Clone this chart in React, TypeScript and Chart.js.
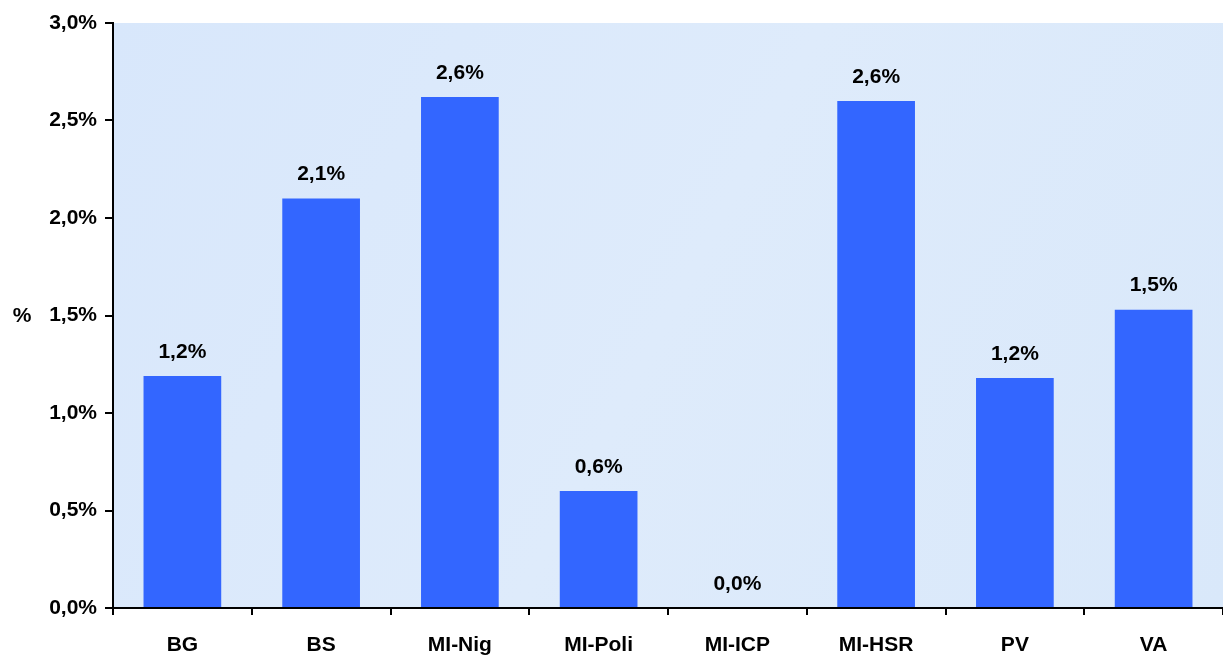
import React, { useEffect, useRef } from "react";
import { Chart, registerables } from "chart.js";

Chart.register(...registerables);

const categories = ["BG", "BS", "MI-Nig", "MI-Poli", "MI-ICP", "MI-HSR", "PV", "VA"];
const values = [1.19, 2.1, 2.62, 0.6, 0.0, 2.6, 1.18, 1.53];
const yTicks = [0, 0.5, 1.0, 1.5, 2.0, 2.5, 3.0];
const yAxisTitle = "%";

const FONT = "'Liberation Sans', Arial, sans-serif";

const fmt = (v: number) => v.toFixed(1).replace(".", ",") + "%";

const bgPlugin = {
  id: "plotBg",
  beforeDraw(chart: any) {
    const { ctx, chartArea } = chart;
    const { left, top, right, bottom } = chartArea;
    ctx.save();
    const g = ctx.createLinearGradient(left, top, right, bottom);
    g.addColorStop(0, "#d8e7fb");
    g.addColorStop(0.5, "#deebfb");
    g.addColorStop(1, "#d9e8fa");
    ctx.fillStyle = g;
    ctx.fillRect(left, top, right - left, bottom - top);
    ctx.restore();
  },
};

const labelPlugin = {
  id: "valueLabels",
  afterDatasetsDraw(chart: any) {
    const { ctx } = chart;
    const meta = chart.getDatasetMeta(0);
    ctx.save();
    ctx.font = `bold 21px ${FONT}`;
    ctx.fillStyle = "#000";
    ctx.textAlign = "center";
    ctx.textBaseline = "middle";
    meta.data.forEach((bar: any, i: number) => {
      ctx.fillText(fmt(values[i]), bar.x, bar.y - 24);
    });
    // y axis title
    ctx.fillText(yAxisTitle, 22, 316);
    ctx.restore();
  },
};

export default function App() {
  const ref = useRef<HTMLCanvasElement | null>(null);
  useEffect(() => {
    document.body.style.margin = "0";
    const chart = new Chart(ref.current!, {
      type: "bar",
      data: {
        labels: categories,
        datasets: [
          {
            data: values,
            backgroundColor: "#3366ff",
            barPercentage: 0.56,
            categoryPercentage: 1,
          },
        ],
      },
      options: {
        responsive: false,
        animation: false,
        devicePixelRatio: 1,
        layout: { padding: { top: 23, left: 0, right: 0, bottom: 0 } },
        plugins: { legend: { display: false }, tooltip: { enabled: false } },
        scales: {
          x: {
            grid: {
              offset: true,
              drawOnChartArea: false,
              drawTicks: true,
              tickLength: 7,
              color: "#000",
              lineWidth: 2,
            },
            border: { color: "#000", width: 2 },
            ticks: {
              color: "#000",
              font: { family: FONT, size: 21, weight: "bold" },
              padding: 18,
              maxRotation: 0,
            },
            afterFit: (s: any) => {
              s.height = 47;
            },
          },
          y: {
            min: 0,
            max: 3,
            afterBuildTicks: (s: any) => {
              s.ticks = yTicks.map((v) => ({ value: v }));
            },
            grid: {
              drawOnChartArea: false,
              drawTicks: true,
              tickLength: 8,
              color: "#000",
              lineWidth: 2,
            },
            border: { color: "#000", width: 2 },
            ticks: {
              color: "#000",
              font: { family: FONT, size: 21, weight: "bold" },
              padding: 8,
              callback: (v: any) => fmt(Number(v)),
            },
            afterFit: (s: any) => {
              s.width = 113;
            },
          },
        },
      },
      plugins: [bgPlugin, labelPlugin],
    });
    return () => chart.destroy();
  }, []);
  return (
    <div style={{ position: "fixed", left: 0, top: 0, width: 1223, height: 655 }}>
      <canvas ref={ref} width={1223} height={655} />
    </div>
  );
}
